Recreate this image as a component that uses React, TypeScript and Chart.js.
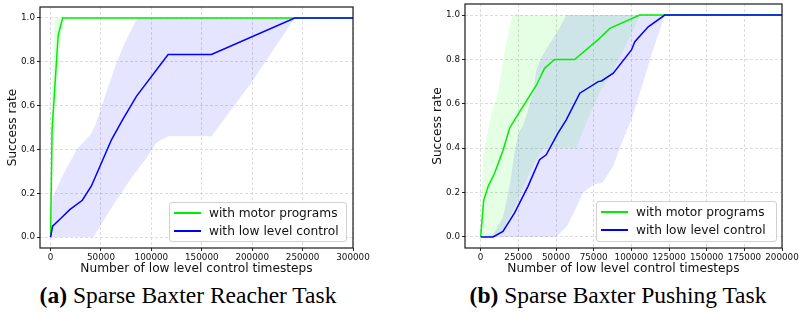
import React, { useEffect, useRef } from "react";
import { Chart, registerables } from "chart.js";

Chart.register(...registerables);

type Pt = [number, number];

// ---------- data ----------
const seriesLabels = ["with motor programs", "with low level control"];
const xAxisTitle = "Number of low level control timesteps";
const yAxisTitle = "Success rate";
const yTicks = [0, 0.2, 0.4, 0.6, 0.8, 1.0];

// (a) Sparse Baxter Reacher Task
const reachXTicks = [0, 50000, 100000, 150000, 200000, 250000, 300000];
const reachMotorMean: Pt[] = [[0, 0], [1500, 0.49], [7500, 0.92], [12000, 1.0], [300000, 1.0]];
const reachMotorUpper: Pt[] = [[0, 0], [1000, 0.6], [4000, 0.98], [6000, 1.0], [300000, 1.0]];
const reachMotorLower: Pt[] = [[0, 0], [2500, 0.35], [9000, 0.85], [13000, 1.0], [300000, 1.0]];
const reachLowMean: Pt[] = [
  [0, 0], [2000, 0.05], [9000, 0.08], [19000, 0.125], [31500, 0.168], [40500, 0.233],
  [50500, 0.339], [60500, 0.445], [71500, 0.536], [85300, 0.643], [116600, 0.833],
  [159600, 0.833], [242200, 1.0], [300000, 1.0],
];
const reachLowUpper: Pt[] = [
  [0, 0], [2000, 0.18], [13000, 0.29], [26000, 0.4], [40000, 0.47], [46000, 0.53],
  [53000, 0.63], [65000, 0.79], [74000, 0.89], [86000, 1.0], [300000, 1.0],
];
const reachLowLower: Pt[] = [
  [0, 0], [42500, 0], [60000, 0.13], [80000, 0.27], [95000, 0.36], [105000, 0.43],
  [116600, 0.46], [159600, 0.46], [200000, 0.71], [242200, 1.0], [300000, 1.0],
];

// (b) Sparse Baxter Pushing Task
const pushXTicks = [0, 25000, 50000, 75000, 100000, 125000, 150000, 175000, 200000];
const pushMotorMean: Pt[] = [
  [0, 0], [2000, 0.165], [5100, 0.23], [9300, 0.288], [14800, 0.39], [19200, 0.49],
  [22500, 0.528], [28000, 0.587], [37100, 0.685], [42400, 0.76], [49100, 0.8],
  [62300, 0.8], [77800, 0.888], [85700, 0.94], [105600, 1.0], [200000, 1.0],
];
const pushMotorUpper: Pt[] = [
  [0, 0], [1500, 0.35], [3000, 0.42], [7000, 0.55], [11500, 0.65], [16000, 0.84],
  [21000, 1.0], [200000, 1.0],
];
const pushMotorLower: Pt[] = [
  [0, 0], [8400, 0], [15000, 0.03], [20000, 0.1], [25000, 0.17], [30500, 0.26],
  [37000, 0.35], [42000, 0.4], [63600, 0.4], [71000, 0.53], [79000, 0.65],
  [88000, 0.75], [94600, 0.84], [101200, 0.93], [105600, 1.0], [200000, 1.0],
];
const pushLowMean: Pt[] = [
  [0, 0], [8200, 0], [14800, 0.025], [22500, 0.108], [31400, 0.228], [39100, 0.348],
  [43500, 0.37], [51300, 0.468], [56800, 0.528], [65800, 0.648], [78000, 0.7],
  [80200, 0.703], [88000, 0.738], [100100, 0.843], [102300, 0.88], [111200, 0.947],
  [122200, 1.0], [200000, 1.0],
];
const pushLowUpper: Pt[] = [
  [0, 0], [8200, 0.01], [14800, 0.09], [19200, 0.23], [22500, 0.38], [25000, 0.47],
  [28000, 0.5], [31400, 0.57], [34700, 0.65], [36900, 0.75], [40200, 0.81],
  [45700, 0.87], [51300, 0.93], [57000, 1.0], [200000, 1.0],
];
const pushLowLower: Pt[] = [
  [0, 0], [50000, 0], [57500, 0.05], [64000, 0.14], [68000, 0.2], [75000, 0.235],
  [81000, 0.245], [88000, 0.32], [94600, 0.44], [100100, 0.53], [107800, 0.695],
  [114500, 0.844], [122200, 1.0], [200000, 1.0],
];

// ---------- styling ----------
const GREEN = "#00ee00";
const BLUE = "#0000ff";
const GREEN_FILL = "rgba(0,255,0,0.1)";
const BLUE_FILL = "rgba(0,0,255,0.1)";
const SANS = "'DejaVu Sans', sans-serif";
const TEXT = "#111";

const toXY = (p: Pt[]) => p.map(([x, y]) => ({ x, y }));

const framePlugin = {
  id: "frame",
  afterDatasetsDraw(chart: any) {
    const { ctx, chartArea } = chart;
    const { left, top, right, bottom } = chartArea;
    ctx.save();
    ctx.strokeStyle = "#1a1a1a";
    ctx.lineWidth = 1.2;
    ctx.strokeRect(left, top, right - left, bottom - top);
    ctx.restore();
  },
};

interface ChartSpec {
  xMin: number;
  xMax: number;
  xTicks: number[];
  padding: { left: number; right: number; top: number; bottom: number };
  motorMean: Pt[];
  motorUpper: Pt[];
  motorLower: Pt[];
  lowMean: Pt[];
  lowUpper: Pt[];
  lowLower: Pt[];
}

function makeConfig(spec: ChartSpec): any {
  const lineDs = (label: string, pts: Pt[], color: string) => ({
    label,
    data: toXY(pts),
    borderColor: color,
    backgroundColor: color,
    borderWidth: 1.5,
    pointRadius: 0,
    tension: 0,
    fill: false,
  });
  const bandDs = (pts: Pt[], fill: any, color: string) => ({
    label: "",
    data: toXY(pts),
    borderWidth: 0,
    borderColor: "rgba(0,0,0,0)",
    backgroundColor: color,
    pointRadius: 0,
    tension: 0,
    fill,
  });
  const gridOpts = {
    color: "#d4d4d4",
    lineWidth: 0.8,
    drawTicks: true,
    tickLength: 3,
    tickColor: "#222",
    tickWidth: 1,
    tickBorderDash: [],
  };
  const borderOpts = { display: false, dash: [3, 2] };
  const tickFont = { family: SANS, size: 8.8 };
  const titleFont = { family: SANS, size: 12.2 };
  return {
    type: "line",
    data: {
      datasets: [
        lineDs(seriesLabels[1], spec.lowMean, BLUE),
        lineDs(seriesLabels[0], spec.motorMean, GREEN),
        bandDs(spec.lowUpper, false, BLUE_FILL),
        bandDs(spec.lowLower, "-1", BLUE_FILL),
        bandDs(spec.motorUpper, false, GREEN_FILL),
        bandDs(spec.motorLower, "-1", GREEN_FILL),
      ],
    },
    options: {
      responsive: false,
      animation: false,
      devicePixelRatio: 1,
      layout: { padding: spec.padding },
      plugins: { legend: { display: false }, tooltip: { enabled: false } },
      scales: {
        x: {
          type: "linear",
          min: spec.xMin,
          max: spec.xMax,
          afterBuildTicks: (s: any) => {
            s.ticks = spec.xTicks.map((v) => ({ value: v }));
          },
          afterFit: (s: any) => {
            s.height = 32;
            s.paddingLeft = 0;
            s.paddingRight = 0;
          },
          ticks: {
            font: tickFont,
            color: TEXT,
            padding: 1,
            maxRotation: 0,
            minRotation: 0,
            autoSkip: false,
            callback: (v: any) => String(v),
          },
          grid: gridOpts,
          border: borderOpts,
          title: {
            display: true,
            text: xAxisTitle,
            font: titleFont,
            color: TEXT,
            padding: { top: 0, bottom: 3.4 },
          },
        },
        y: {
          type: "linear",
          min: -0.05,
          max: 1.05,
          afterBuildTicks: (s: any) => {
            s.ticks = yTicks.map((v) => ({ value: v }));
          },
          afterFit: (s: any) => {
            s.width = 40;
            s.paddingTop = 0;
            s.paddingBottom = 0;
          },
          ticks: {
            font: tickFont,
            color: TEXT,
            padding: 2,
            callback: (v: any) => Number(v).toFixed(1),
          },
          grid: gridOpts,
          border: borderOpts,
          title: {
            display: true,
            text: yAxisTitle,
            font: titleFont,
            color: TEXT,
            padding: { top: 6, bottom: 0 },
          },
        },
      },
    },
    plugins: [framePlugin],
  };
}

function Legend({ left, top, width, height }: { left: number; top: number; width: number; height: number }) {
  const rows = [
    { label: seriesLabels[0], color: GREEN, cy: 10 },
    { label: seriesLabels[1], color: BLUE, cy: 28 },
  ];
  return (
    <div
      style={{
        position: "absolute",
        left,
        top,
        width,
        height,
        boxSizing: "border-box",
        border: "1px solid #d0d0d0",
        borderRadius: 3,
        background: "rgba(255,255,255,0.85)",
        fontFamily: SANS,
        fontSize: 12.2,
        color: TEXT,
      }}
    >
      {rows.map((r) => (
        <React.Fragment key={r.label}>
          <div
            style={{
              position: "absolute",
              left: 4,
              top: r.cy - 1,
              width: 27,
              height: 0,
              borderTop: `2px solid ${r.color}`,
            }}
          />
          <div
            style={{
              position: "absolute",
              left: 39,
              top: r.cy - 8,
              height: 16,
              lineHeight: "16px",
              whiteSpace: "nowrap",
            }}
          >
            {r.label}
          </div>
        </React.Fragment>
      ))}
    </div>
  );
}

function Caption({ cx, letter, text }: { cx: number; letter: string; text: string }) {
  return (
    <div
      style={{
        position: "absolute",
        left: cx - 200,
        width: 400,
        top: 282,
        height: 26,
        lineHeight: "26px",
        textAlign: "center",
        fontFamily: "'Liberation Serif', 'Times New Roman', serif",
        fontSize: 23.5,
        color: "#000",
        whiteSpace: "nowrap",
      }}
    >
      <b>({letter})</b> {text}
    </div>
  );
}

export default function App() {
  const refA = useRef<HTMLCanvasElement>(null);
  const refB = useRef<HTMLCanvasElement>(null);

  useEffect(() => {
    const a = new Chart(
      refA.current as HTMLCanvasElement,
      makeConfig({
        xMin: -10500,
        xMax: 300000,
        xTicks: reachXTicks,
        padding: { left: 0, right: 47, top: 7, bottom: 0 },
        motorMean: reachMotorMean,
        motorUpper: reachMotorUpper,
        motorLower: reachMotorLower,
        lowMean: reachLowMean,
        lowUpper: reachLowUpper,
        lowLower: reachLowLower,
      })
    );
    const b = new Chart(
      refB.current as HTMLCanvasElement,
      makeConfig({
        xMin: -10400,
        xMax: 200000,
        xTicks: pushXTicks,
        padding: { left: 25, right: 38, top: 4, bottom: 0 },
        motorMean: pushMotorMean,
        motorUpper: pushMotorUpper,
        motorLower: pushMotorLower,
        lowMean: pushLowMean,
        lowUpper: pushLowUpper,
        lowLower: pushLowLower,
      })
    );
    return () => {
      a.destroy();
      b.destroy();
    };
  }, []);

  return (
    <div
      style={{
        position: "fixed",
        left: 0,
        top: 0,
        width: 800,
        height: 312,
        overflow: "hidden",
        background: "#fff",
      }}
    >
      <canvas ref={refA} width={400} height={280} style={{ position: "absolute", left: 0, top: 0 }} />
      <canvas ref={refB} width={420} height={280} style={{ position: "absolute", left: 400, top: 0 }} />
      <Legend left={169} top={202} width={178} height={40} />
      <Legend left={596} top={201} width={181} height={41} />
      <Caption cx={188} letter="a" text="Sparse Baxter Reacher Task" />
      <Caption cx={618} letter="b" text="Sparse Baxter Pushing Task" />
    </div>
  );
}
